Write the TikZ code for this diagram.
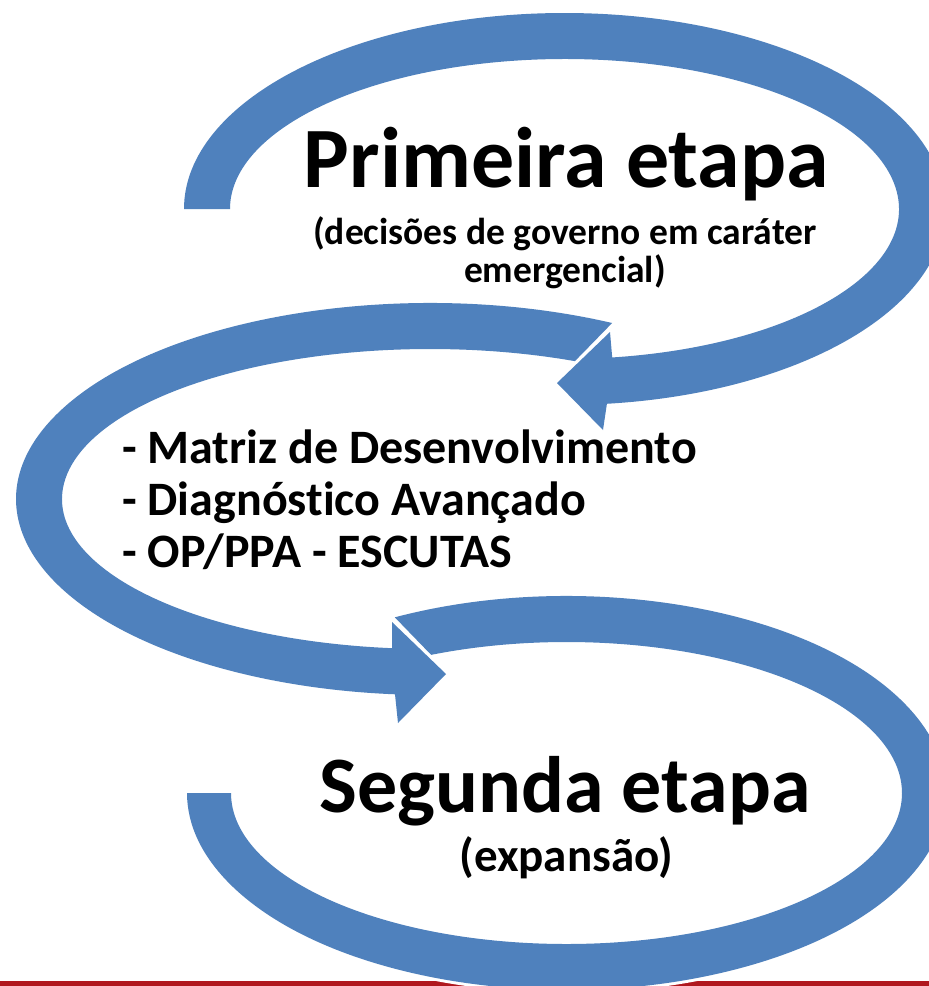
\documentclass[tikz,border=0pt]{standalone}
\usepackage{fontspec}
\setmainfont{Carlito}[Ligatures=NoCommon]
\usetikzlibrary{calc}
\definecolor{ringblue}{RGB}{79,129,189}
\definecolor{barred}{RGB}{176,24,30}
\tikzset{
  ringshape/.style={fill=ringblue, preaction={draw=white, line width=6pt, line join=miter}},
  titletext/.style={font=\fontsize{86}{100}\selectfont\bfseries, inner sep=0pt, anchor=base},
  title2text/.style={font=\fontsize{80}{96}\selectfont\bfseries, inner sep=0pt, anchor=base},
  subtext/.style={font=\fontsize{37.5}{44}\selectfont\bfseries, inner sep=0pt, anchor=base},
  exptext/.style={font=\fontsize{47}{54}\selectfont\bfseries, inner sep=0pt, anchor=base},
  itemtext/.style={font=\fontsize{48}{56}\selectfont\bfseries, inner sep=0pt, anchor=base west},
}
\begin{document}
\begin{tikzpicture}[x=1pt,y=-1pt]
\useasboundingbox (0,0) rectangle (929,986);
\fill[white] (0,0) rectangle (929,986);
% bottom bar
\fill[barred] (0,981) rectangle (929,986);
\coordinate (C1) at (564.5,209);
\coordinate (C2) at (430,499);
\coordinate (C3) at (566.5,793);
% ring 3 (bottom)
\path[ringshape] ($(C3)+(243.1:379.5 and 197)$)
  arc[start angle=243.1, end angle=540, x radius=379.5, y radius=197]
  -- ($(C3)+(540:335.5 and 151)$)
  arc[start angle=540, end angle=246.2, x radius=335.5, y radius=151] -- cycle;
% ring 2 (middle)
\path[ringshape] ($(C2)+(296.1:414 and 196)$)
  arc[start angle=296.1, end angle=94.85, x radius=414, y radius=196]
  -- (398,723) -- (446,674) -- (392,622)
  -- ($(C2)+(95.9:368 and 150)$)
  arc[start angle=95.9, end angle=293.2, x radius=368, y radius=150] -- cycle;
% ring 1 (top)
\path[ringshape] ($(C1)+(180:380.5 and 196)$)
  arc[start angle=180, end angle=443.6, x radius=380.5, y radius=196]
  -- (603,430) -- (557,383) -- (610,332)
  -- ($(C1)+(441.8:334.5 and 150)$)
  arc[start angle=441.8, end angle=180, x radius=334.5, y radius=150] -- cycle;
% texts
\node[titletext] (t1) at (566.5,187) {Primeira etapa};
\node[subtext] (s1a) at (565,244) {(decisões de governo em caráter};
\node[subtext] (s1b) at (565,282) {emergencial)};
\node[itemtext] (l1) at (122,463) {- Matriz de Desenvolvimento};
\node[itemtext] (l2) at (122,515) {- Diagnóstico Avançado};
\node[itemtext] (l3) at (122,567) {- OP/PPA - ESCUTAS};
\node[title2text] (t2) at (565,812) {Segunda etapa};
\node[exptext] (s2) at (566.5,871) {(expansão)};
\end{tikzpicture}
\end{document}
